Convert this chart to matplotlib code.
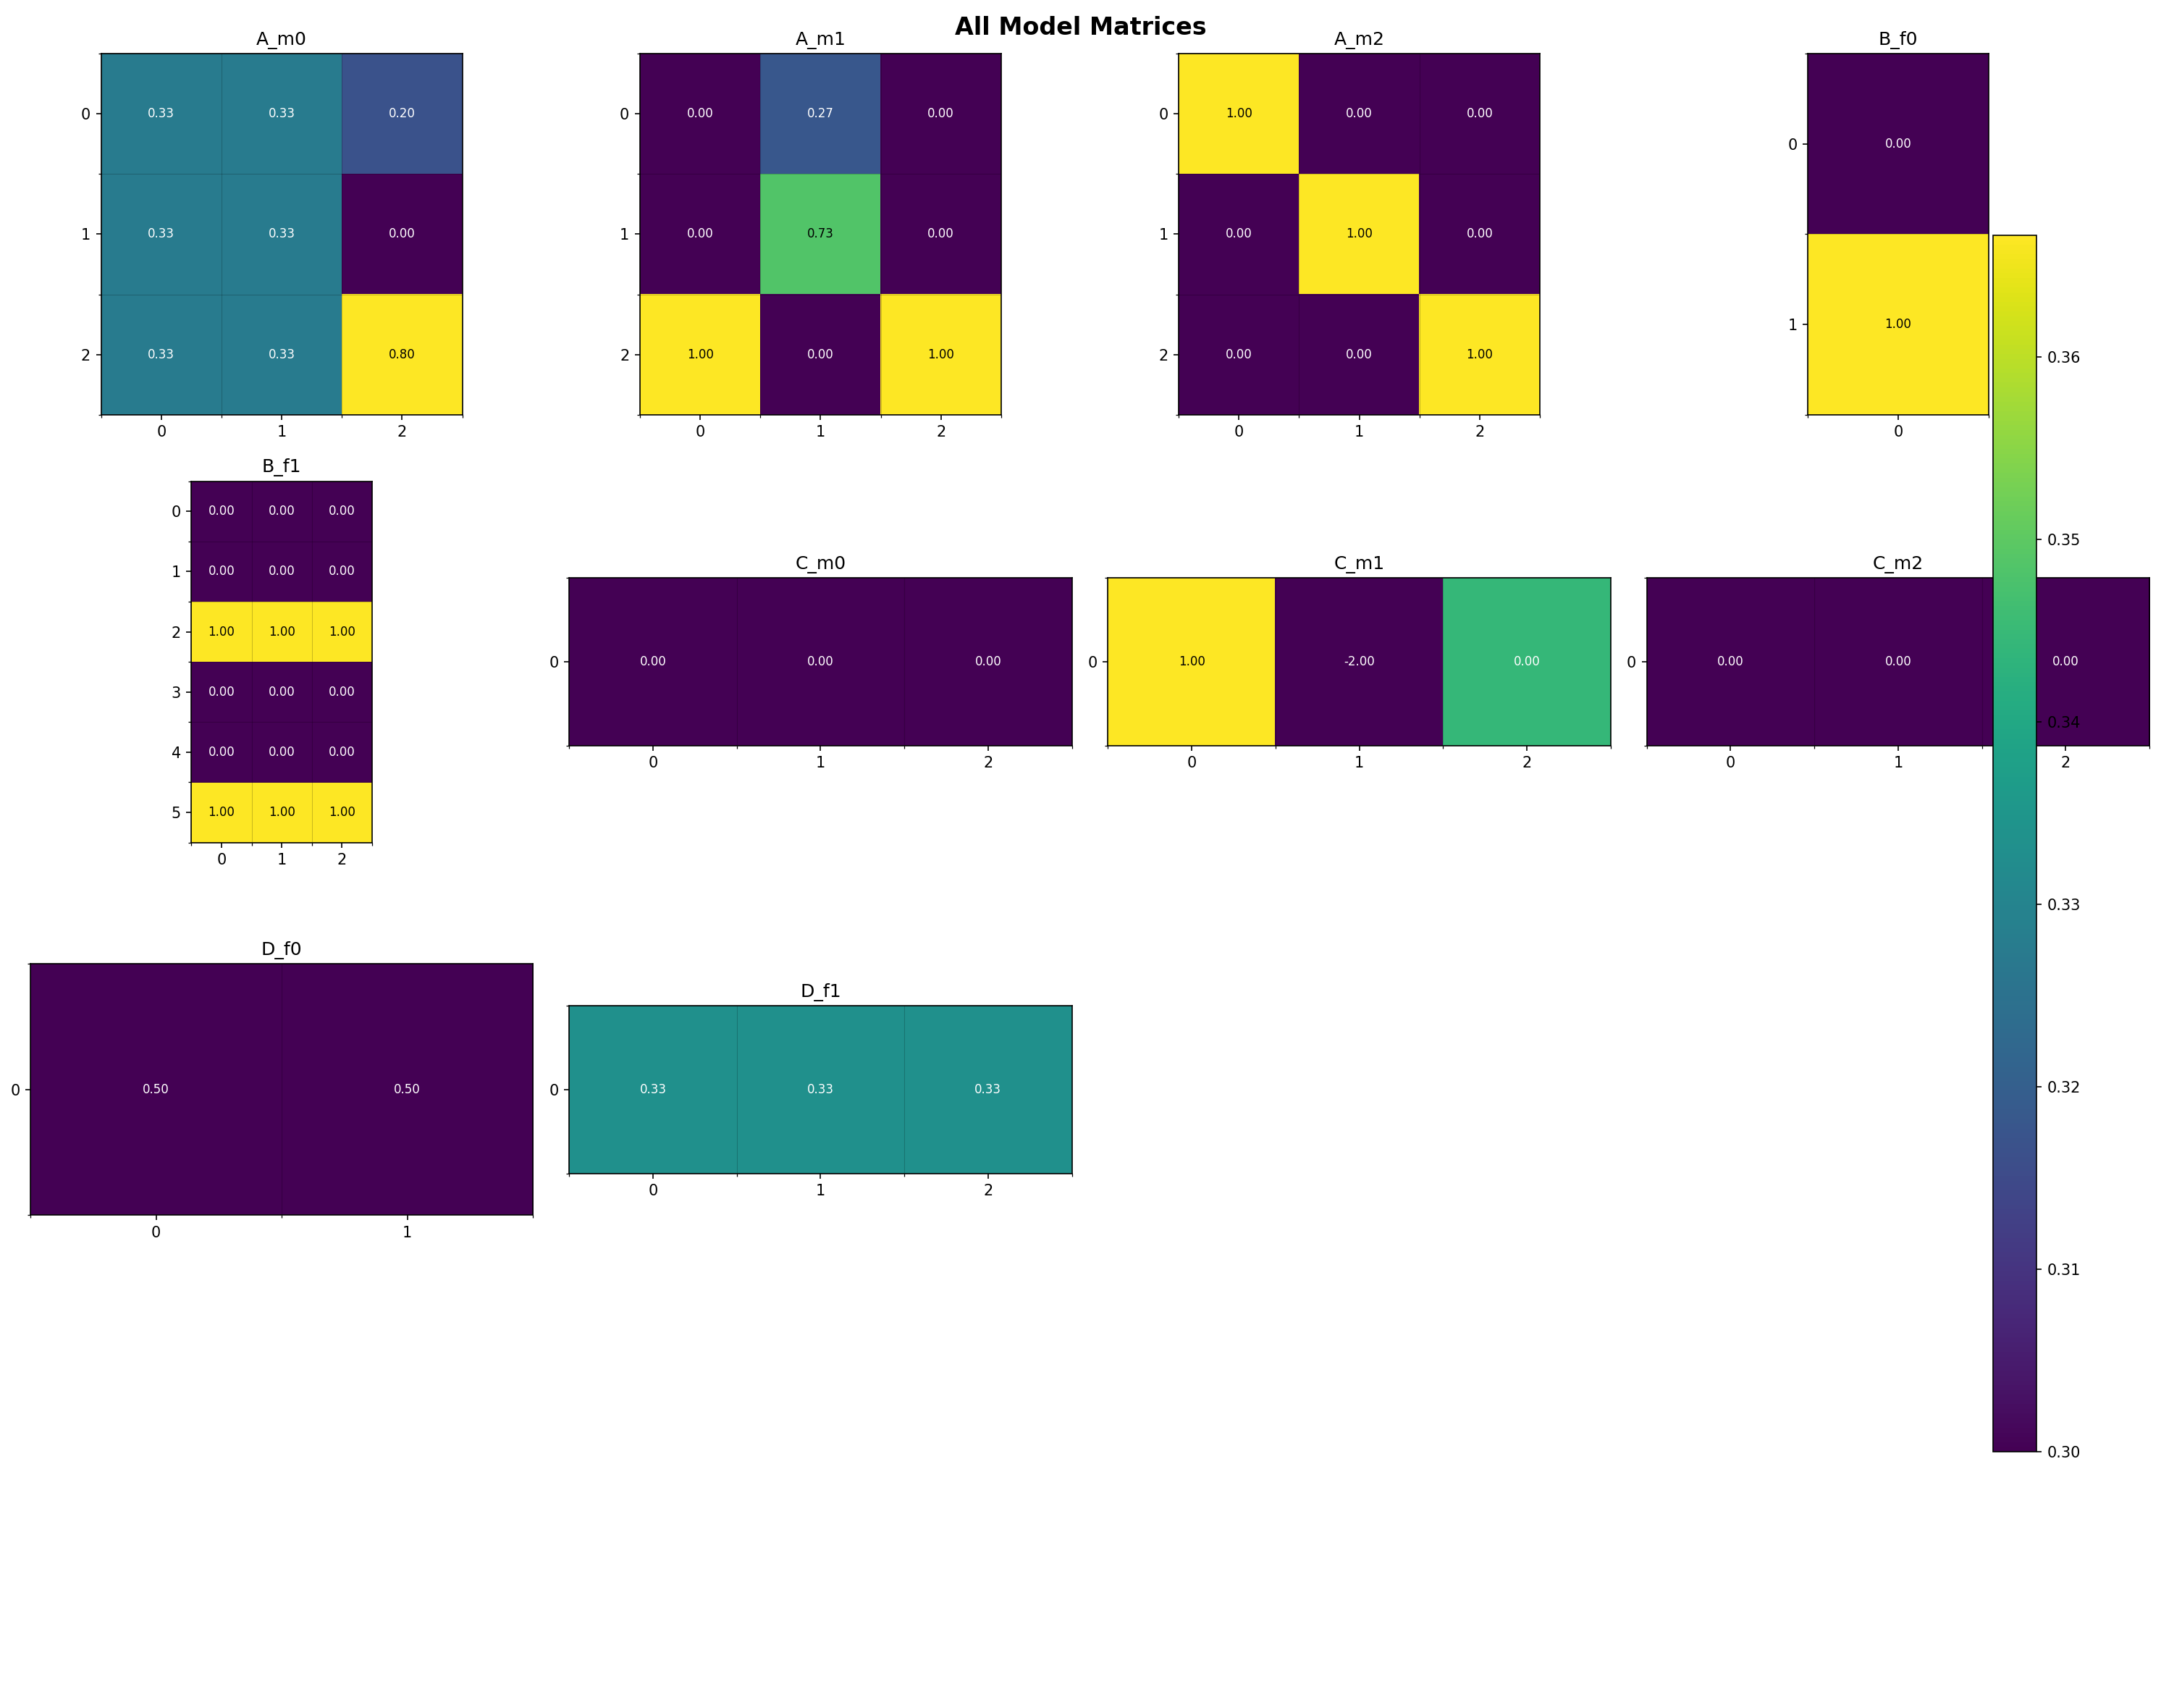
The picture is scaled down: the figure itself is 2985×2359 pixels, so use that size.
import numpy as np
import matplotlib
matplotlib.use("Agg")
import matplotlib.pyplot as plt

# matrices of the model
names = ["A_m0", "A_m1", "A_m2", "B_f0", "B_f1", "C_m0", "C_m1", "C_m2", "D_f0", "D_f1"]

A_m0 = [[0.3333333, 0.3333333, 0.20],
        [0.3333333, 0.3333333, 0.00],
        [0.3333333, 0.3333333, 0.80]]
A_m1 = [[0.00, 0.27, 0.00],
        [0.00, 0.73, 0.00],
        [1.00, 0.00, 1.00]]
A_m2 = [[1.00, 0.00, 0.00],
        [0.00, 1.00, 0.00],
        [0.00, 0.00, 1.00]]
B_f0 = [[0.00],
        [1.00]]
B_f1 = [[0.00, 0.00, 0.00],
        [0.00, 0.00, 0.00],
        [1.00, 1.00, 1.00],
        [0.00, 0.00, 0.00],
        [0.00, 0.00, 0.00],
        [1.00, 1.00, 1.00]]
C_m0 = [[0.00, 0.00, 0.00]]
C_m1 = [[1.00, -2.00, 0.00]]
C_m2 = [[0.00, 0.00, 0.00]]
D_f0 = [[0.50, 0.50]]
D_f1 = [[0.33333333, 0.33333333, 0.33333333]]

matrices = [A_m0, A_m1, A_m2, B_f0, B_f1, C_m0, C_m1, C_m2, D_f0, D_f1]

W, H = 2985, 2359
fig, axes = plt.subplots(
    4, 4, figsize=(W / 150, H / 150), dpi=150,
    gridspec_kw=dict(left=42 / W, right=2969 / W, top=1 - 74 / H, bottom=1 - 2345 / H,
                     wspace=0.072, hspace=0.184),
)
axes = axes.ravel()

for ax, name, m in zip(axes, names, matrices):
    mat = np.array(m)
    im = ax.imshow(mat, cmap="viridis")
    ax.set_title(name)
    nr, nc = mat.shape
    ax.set_xticks(np.arange(nc))
    ax.set_yticks(np.arange(nr))
    ax.set_xticks(np.arange(nc + 1) - 0.5, minor=True)
    ax.set_yticks(np.arange(nr + 1) - 0.5, minor=True)
    ax.grid(which="minor", color="k", linestyle="-", linewidth=0.5, alpha=0.2)
    for i in range(nr):
        for j in range(nc):
            v = mat[i, j]
            ax.text(j, i, f"{v:.2f}", ha="center", va="center", fontsize=8,
                    color="black" if v > 0.5 else "white")

for ax in axes[len(matrices):]:
    ax.axis("off")

# colorbar of the last matrix
cax = fig.add_axes([2753 / W, 1 - 2005 / H, 60 / W, 1680 / H])
fig.colorbar(im, cax=cax)

fig.suptitle("All Model Matrices", fontsize=16, fontweight="bold", y=1 - 48 / H, va="baseline")
fig.savefig("out.png", dpi=150)
